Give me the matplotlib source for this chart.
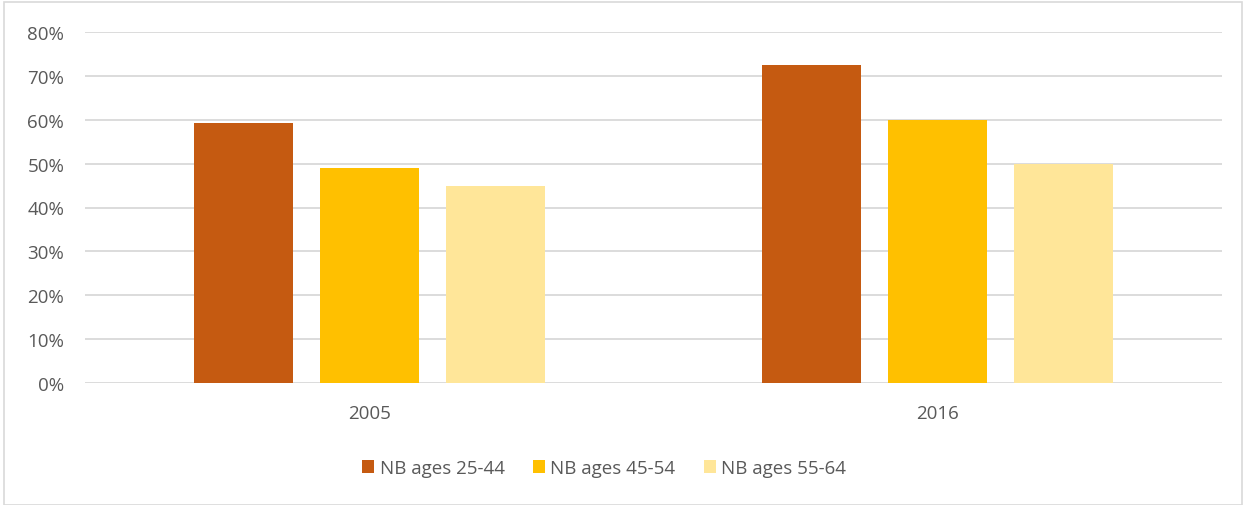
import matplotlib
matplotlib.use("Agg")
import matplotlib.pyplot as plt
import numpy as np
from matplotlib.patches import Rectangle

categories = ["2005", "2016"]
series_names = ["NB ages 25-44", "NB ages 45-54", "NB ages 55-64"]
ages_25_44 = [0.592, 0.725]
ages_45_54 = [0.49, 0.60]
ages_55_64 = [0.45, 0.50]
yticks = [0, 0.1, 0.2, 0.3, 0.4, 0.5, 0.6, 0.7, 0.8]
ytick_labels = ["0%", "10%", "20%", "30%", "40%", "50%", "60%", "70%", "80%"]

colors = ["#C55A11", "#FFC000", "#FFE699"]
text_color = "#595959"
plt.rcParams['font.family'] = ['Open Sans', 'DejaVu Sans']
fs = 13.5

fig = plt.figure(figsize=(12.43, 5.06), dpi=100)
ax = fig.add_axes([85/1243, 1-384/506, (1222-85)/1243, (384-33)/506])

x = np.arange(len(categories))
width = 0.174
step = 0.2216
series = [ages_25_44, ages_45_54, ages_55_64]
for i, (vals, name, c) in enumerate(zip(series, series_names, colors)):
    ax.bar(x + (i-1)*step, vals, width, color=c, label=name, zorder=3)

ax.set_xlim(-0.5, 1.5)
ax.set_ylim(0, 0.8)
ax.set_yticks(yticks)
ax.set_yticklabels(ytick_labels)
ax.set_xticks(x)
ax.set_xticklabels(categories)
ax.yaxis.grid(True, color="#D9D9D9", linewidth=1.3, zorder=0)
ax.set_axisbelow(True)
for s in ax.spines.values():
    s.set_visible(False)
ax.tick_params(axis='both', length=0, labelsize=fs, colors=text_color)
ax.tick_params(axis='y', pad=15)
ax.tick_params(axis='x', pad=15)

leg = fig.legend(loc='center', bbox_to_anchor=(604/1243, 1-469/506), ncol=3, frameon=False,
                 fontsize=fs, handlelength=0.64, handleheight=0.64, columnspacing=1.5,
                 handletextpad=0.3)
for t in leg.get_texts():
    t.set_color(text_color)

fig.patches.append(Rectangle((4/1243, 0), 1-4/1243-0.0005, 1-3/506, transform=fig.transFigure,
                             fill=False, edgecolor="#D9D9D9", linewidth=1.2))

fig.savefig("out.png", dpi=100, facecolor="white")
